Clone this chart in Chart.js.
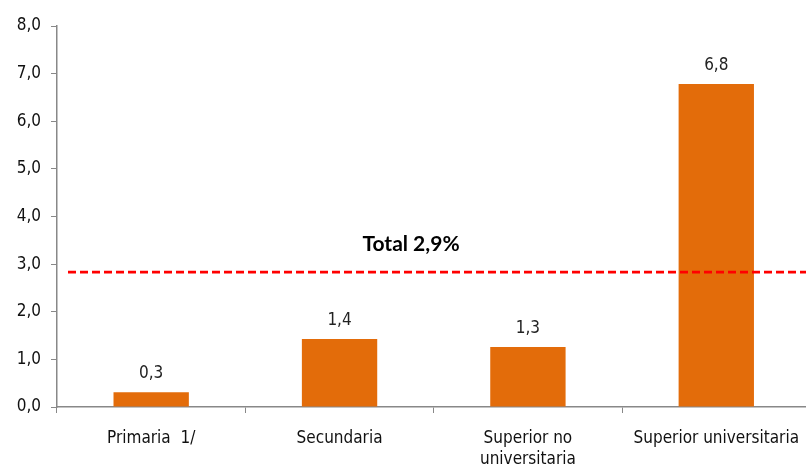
<!DOCTYPE html>
<html>
<head>
<meta charset="utf-8">
<script src="https://cdn.jsdelivr.net/npm/chart.js@4"></script>
<style>
html,body{margin:0;padding:0;background:#fff;overflow:hidden;}
#wrap{width:806px;height:466px;overflow:hidden;}
</style>
</head>
<body>
<div id="wrap"><canvas id="c" width="814" height="466"></canvas></div>
<script>
const categories = ["Primaria  1/", "Secundaria", ["Superior no", "universitaria"], "Superior universitaria"];
const values = [0.31, 1.43, 1.26, 6.78];
const totalValue = 2.83;
const totalLabel = "Total 2,9%";
const yTicks = [0, 1, 2, 3, 4, 5, 6, 7, 8];

const FONT = "'Liberation Sans Narrow','DejaVu Sans Condensed',sans-serif";
const fmt = v => v.toFixed(1).replace('.', ',');

const overlay = {
  id: 'overlay',
  afterDatasetsDraw(chart) {
    const ctx = chart.ctx;
    const y = chart.scales.y;
    const area = chart.chartArea;
    const ly = y.getPixelForValue(totalValue);
    ctx.save();
    ctx.strokeStyle = '#ff0000';
    ctx.lineWidth = 2.8;
    ctx.setLineDash([8, 4]);
    ctx.beginPath();
    ctx.moveTo(area.left + 11, ly);
    ctx.lineTo(806, ly);
    ctx.stroke();
    ctx.setLineDash([]);
    ctx.fillStyle = '#000';
    ctx.font = "bold 21px Lato, sans-serif";
    ctx.textAlign = 'center';
    ctx.textBaseline = 'middle';
    ctx.fillText(totalLabel, 411, ly - 28);
    const meta = chart.getDatasetMeta(0);
    ctx.font = "17px " + FONT;
    ctx.fillStyle = '#222';
    ctx.textBaseline = 'alphabetic';
    meta.data.forEach((bar, i) => {
      ctx.fillText(fmt(values[i]), bar.x, bar.y - 14);
    });
    ctx.restore();
  }
};

new Chart(document.getElementById('c'), {
  type: 'bar',
  data: {
    labels: categories,
    datasets: [{
      data: values,
      backgroundColor: '#e36c0a',
      borderWidth: 0,
      categoryPercentage: 0.8,
      barPercentage: 0.5
    }]
  },
  options: {
    responsive: false,
    animation: false,
    events: [],
    layout: { padding: { top: 26, right: 0, left: 0, bottom: 0 } },
    plugins: { legend: { display: false }, tooltip: { enabled: false } },
    scales: {
      x: {
        offset: true,
        grid: { display: true, drawOnChartArea: false, drawTicks: true, tickLength: 6, color: '#888', offset: true },
        border: { color: '#888', width: 1.5 },
        ticks: { color: '#111', font: { family: FONT, size: 17, lineHeight: 1.25 }, maxRotation: 0, autoSkip: false, padding: 15 },
        afterFit(s) { s.height = 59; }
      },
      y: {
        min: 0, max: 8,
        afterBuildTicks(s) { s.ticks = yTicks.map(v => ({ value: v })); },
        grid: { display: true, drawOnChartArea: false, drawTicks: true, tickLength: 6, color: '#888' },
        border: { color: '#888', width: 1.5 },
        ticks: { color: '#111', font: { family: FONT, size: 17 }, padding: 10, callback: v => fmt(v) },
        afterFit(s) { s.width = 57; }
      }
    }
  },
  plugins: [overlay]
});
</script>
</body>
</html>
